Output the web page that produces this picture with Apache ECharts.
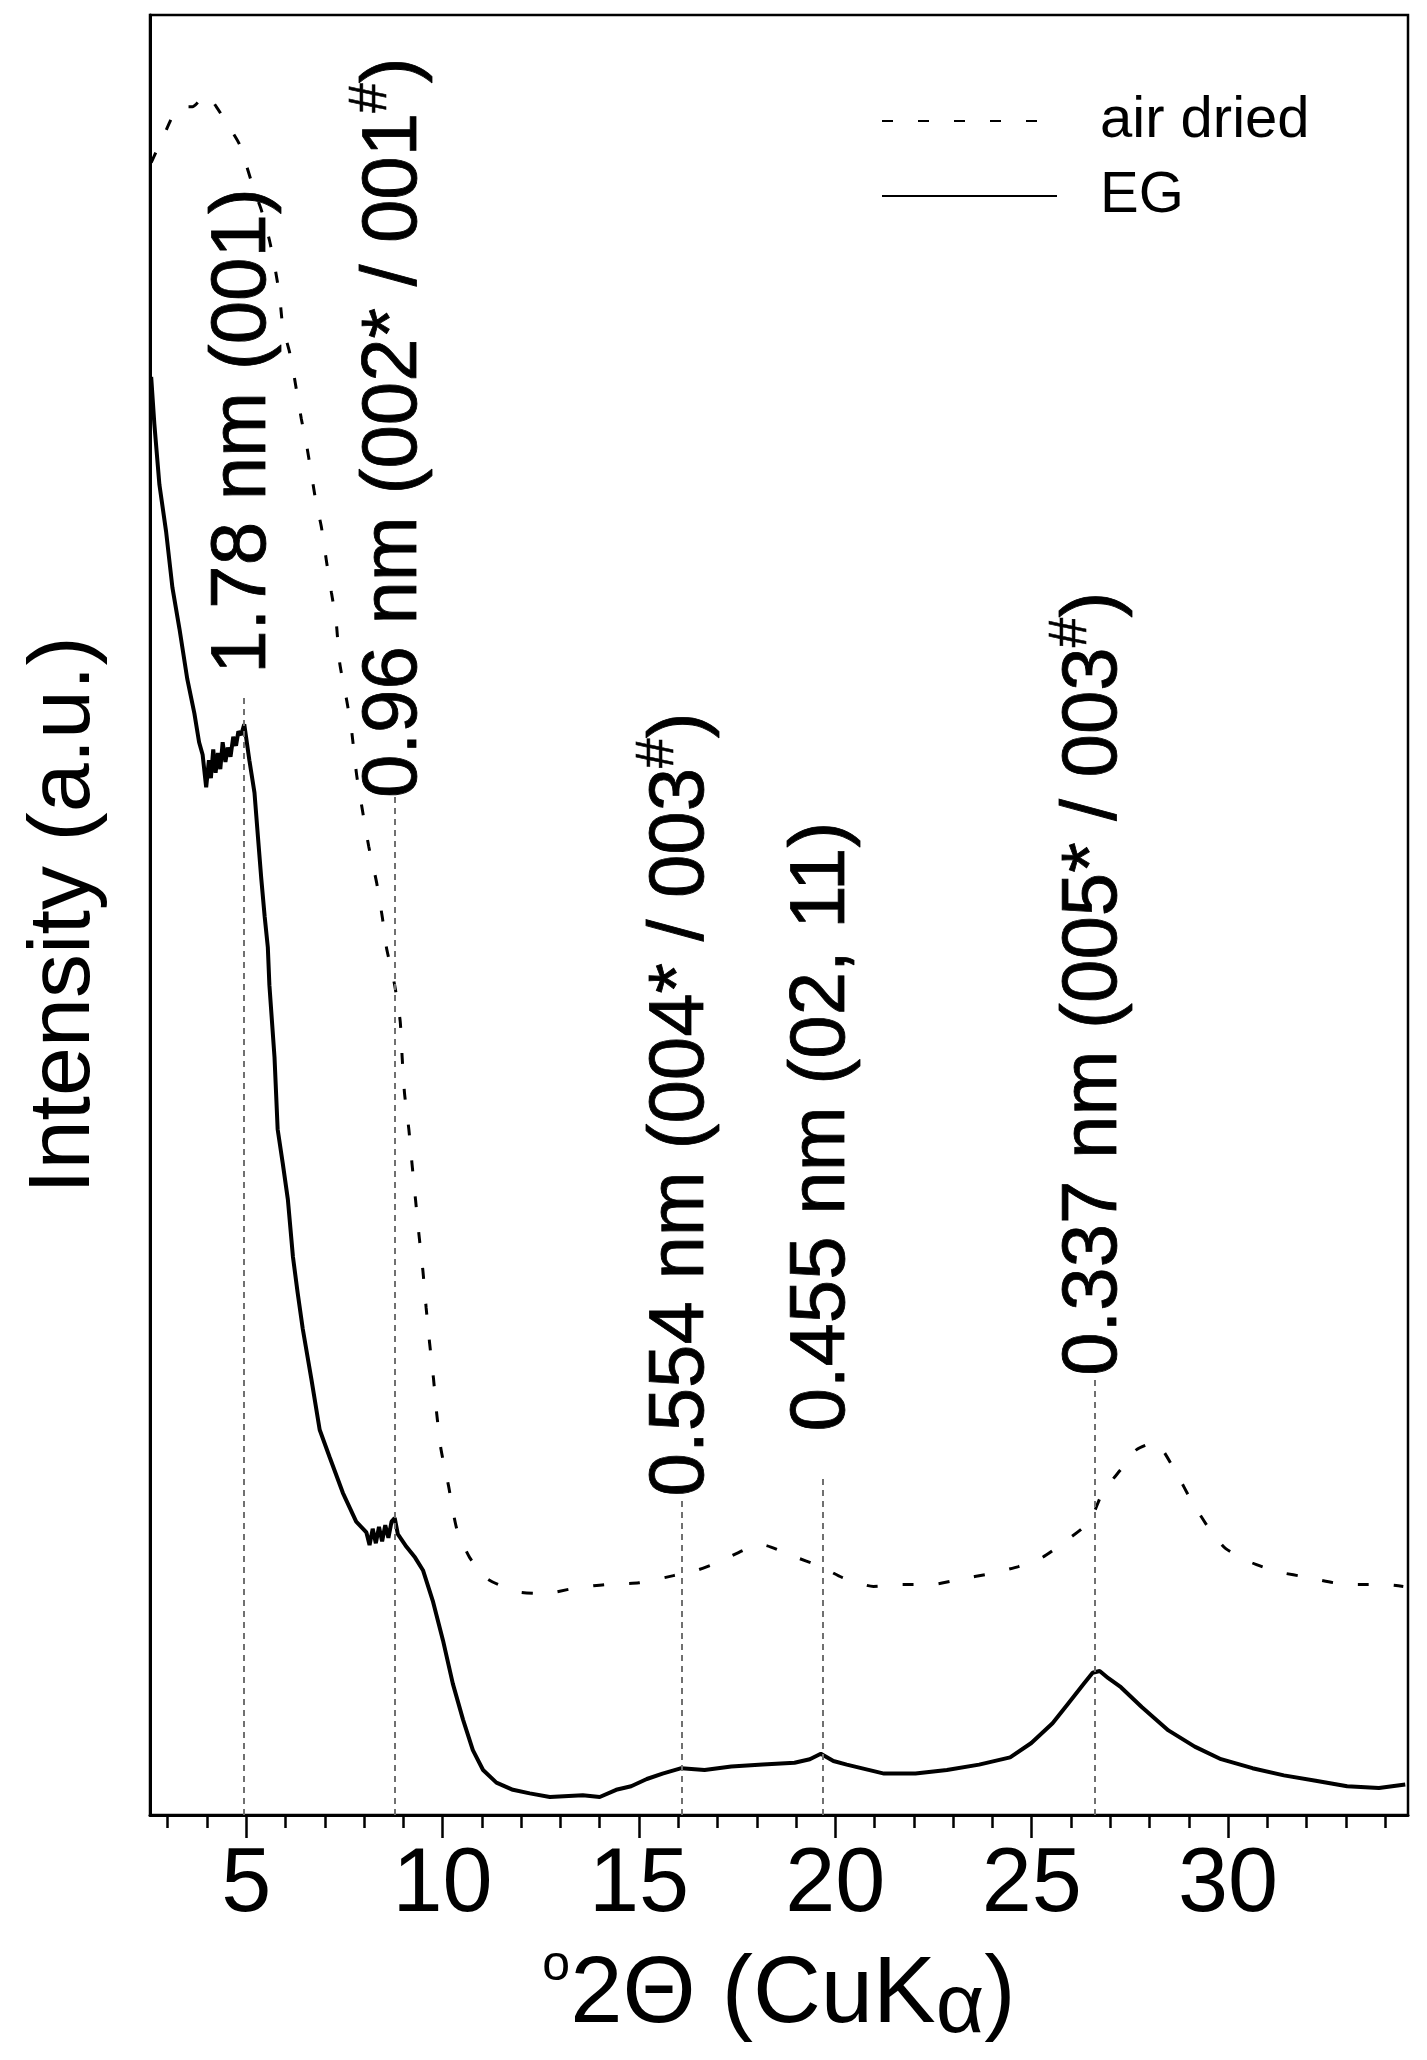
<!DOCTYPE html>
<html><head><meta charset="utf-8">
<script src="https://cdn.jsdelivr.net/npm/echarts@6/dist/echarts.min.js"></script>
<style>html,body{margin:0;padding:0;background:#fff}#c{width:1427px;height:2060px}</style>
</head><body><div id="c"></div>
<script>
// ---- data ----
const seriesNames = ['air dried', 'EG'];
const yTitle = 'Intensity (a.u.)';
const xTickLabels = [5, 10, 15, 20, 25, 30];
const xMinorTicks = [3, 4, 6, 7, 8, 9, 11, 12, 13, 14, 16, 17, 18, 19, 21, 22, 23, 24, 26, 27, 28, 29, 31, 32, 33, 34];

const airX = [2.58, 2.88, 3.30, 3.63, 3.98, 4.24, 4.53, 4.83, 5.21, 5.38, 5.59, 5.72, 5.85, 5.93, 6.10, 6.23, 6.40, 6.53, 6.66, 6.78, 6.91, 7.04, 7.17, 7.29, 7.38, 7.56, 7.68, 7.81, 7.96, 8.12, 8.32, 8.47, 8.57, 8.78, 8.92, 8.97, 9.03, 9.14, 9.22, 9.31, 9.40, 9.50, 9.58, 9.67, 9.77, 9.85, 9.96, 10.15, 10.36, 10.69, 11.15, 11.91, 12.60, 13.36, 14.13, 15.00, 15.88, 16.48, 17.08, 17.75, 18.15, 18.89, 19.63, 20.17, 20.97, 21.71, 22.45, 23.18, 23.92, 24.66, 25.26, 25.79, 26.47, 26.80, 27.27, 27.67, 28.14, 28.68, 29.08, 29.55, 29.94, 30.62, 31.29, 32.03, 32.70, 33.31, 34.05, 34.46];
const airY = [91.8, 93.2, 94.9, 94.9, 95.6, 94.9, 93.9, 92.8, 90.2, 89.2, 87.5, 86.1, 84.4, 82.7, 81.3, 79.8, 77.6, 76.2, 74.5, 72.9, 71.6, 69.7, 67.9, 66.3, 64.0, 61.9, 60.3, 57.8, 55.8, 53.8, 51.8, 49.8, 48.2, 46.1, 44.1, 42.1, 40.1, 38.1, 36.2, 34.2, 32.2, 30.2, 28.2, 26.2, 24.2, 22.3, 20.3, 18.3, 15.9, 14.3, 13.1, 12.4, 12.3, 12.6, 12.8, 12.9, 13.3, 13.6, 14.1, 14.8, 15.0, 14.4, 13.8, 13.2, 12.7, 12.8, 12.8, 13.1, 13.4, 13.8, 14.3, 15.1, 16.3, 17.9, 19.2, 20.3, 20.7, 19.0, 17.4, 15.8, 14.8, 14.0, 13.5, 13.2, 12.9, 12.8, 12.8, 12.7];

const egX = [2.58, 2.66, 2.79, 2.96, 3.12, 3.30, 3.50, 3.68, 3.80, 3.89, 3.98, 4.05, 4.10, 4.16, 4.22, 4.28, 4.34, 4.40, 4.47, 4.53, 4.60, 4.67, 4.74, 4.80, 4.87, 4.95, 5.08, 5.21, 5.30, 5.38, 5.47, 5.55, 5.59, 5.72, 5.80, 5.93, 6.06, 6.19, 6.31, 6.44, 6.66, 6.87, 7.12, 7.46, 7.80, 8.06, 8.14, 8.22, 8.30, 8.38, 8.46, 8.54, 8.62, 8.70, 8.78, 8.86, 9.08, 9.30, 9.50, 9.75, 10.01, 10.26, 10.52, 10.77, 11.03, 11.37, 11.79, 12.22, 12.73, 13.57, 14.00, 14.42, 14.80, 15.20, 15.60, 16.08, 16.67, 17.35, 18.15, 18.96, 19.35, 19.63, 19.95, 20.29, 21.24, 22.04, 22.84, 23.66, 24.45, 24.99, 25.53, 25.93, 26.33, 26.55, 26.73, 26.95, 27.27, 27.80, 28.48, 29.15, 29.82, 30.62, 31.42, 32.23, 33.03, 33.84, 34.51];
const egY = [79.9, 77.3, 73.9, 71.3, 68.2, 65.9, 63.1, 61.2, 59.6, 58.9, 57.1, 58.6, 57.6, 59.2, 57.9, 59.0, 58.1, 59.6, 58.5, 59.3, 58.8, 59.9, 59.4, 60.2, 60.0, 60.6, 58.6, 56.8, 54.3, 52.1, 49.9, 48.2, 46.1, 42.1, 38.1, 36.2, 34.2, 31.0, 29.0, 27.0, 24.2, 21.4, 19.9, 17.9, 16.3, 15.7, 15.0, 15.9, 15.1, 16.0, 15.2, 16.1, 15.4, 16.3, 16.5, 15.6, 14.9, 14.3, 13.6, 11.9, 9.7, 7.3, 5.3, 3.6, 2.5, 1.8, 1.4, 1.2, 1.0, 1.1, 1.0, 1.4, 1.6, 2.0, 2.3, 2.6, 2.5, 2.7, 2.8, 2.9, 3.1, 3.4, 3.0, 2.8, 2.3, 2.3, 2.5, 2.8, 3.2, 4.0, 5.1, 6.2, 7.3, 7.9, 8.0, 7.6, 7.1, 6.0, 4.7, 3.8, 3.1, 2.6, 2.2, 1.9, 1.6, 1.5, 1.7];

const peakX = [4.93, 8.78, 16.08, 19.67, 26.60];
const peakTop = [62.2, 56.8, 17.7, 18.8, 24.4];
const labelBase = [63.4, 56.5, 17.7, 21.3, 24.4];
const peakLabels = ['1.78 nm (001)', '0.96 nm (002* / 001#)', '0.554 nm (004* / 003#)', '0.455 nm (02, 11)', '0.337 nm (005* / 003#)'];

// ---- chart ----
const FF = '"Liberation Sans", Arial, Helvetica, sans-serif';
const zip = (xs, ys) => xs.map((x, i) => [x, ys[i]]);
const XMIN = 2.55, XMAX = 34.58;

const chart = echarts.init(document.getElementById('c'), null, { renderer: 'canvas', width: 1427, height: 2060 });
chart.setOption({
  animation: false,
  backgroundColor: '#fff',
  grid: { left: 150, right: 19, top: 15, bottom: 245, show: true, borderColor: '#000', borderWidth: 2.5, outerBoundsMode: 'none', containLabel: false },
  legend: {
    data: seriesNames, orient: 'vertical', left: 881, top: 92, padding: 0,
    itemWidth: 175, itemHeight: 20, itemGap: 17, selectedMode: false,
    itemStyle: { opacity: 0 },
    textStyle: { fontSize: 58, fontFamily: FF, color: '#000', padding: [0, 0, 0, 38] }
  },
  xAxis: [{
    type: 'value', min: XMIN, max: XMAX, position: 'bottom',
    axisLine: { show: true, onZero: false, lineStyle: { color: '#000', width: 3 } },
    axisTick: { show: true, customValues: xTickLabels, length: 23, lineStyle: { color: '#000', width: 2.5 } },
    axisLabel: { show: true, customValues: xTickLabels, margin: 26, fontSize: 90, fontFamily: FF, color: '#000' },
    splitLine: { show: false },
    name: '{o|o}{t|2Θ (CuK}{a|α}{t|)}', nameLocation: 'middle', nameGap: 126,
    nameTextStyle: {
      color: '#000', fontFamily: FF, fontSize: 94,
      rich: {
        t: { fontSize: 94, lineHeight: 110, fontFamily: FF, color: '#000' },
        o: { fontSize: 50, lineHeight: 50, verticalAlign: 'top', fontFamily: FF, color: '#000' },
        a: { fontSize: 84, lineHeight: 103, verticalAlign: 'bottom', fontFamily: FF, color: '#000' }
      }
    }
  }, {
    type: 'value', min: XMIN, max: XMAX, position: 'bottom',
    axisLine: { show: false, onZero: false },
    axisTick: { show: true, customValues: xMinorTicks, length: 13, lineStyle: { color: '#000', width: 2.5 } },
    axisLabel: { show: false }, splitLine: { show: false }
  }],
  yAxis: {
    type: 'value', min: 0, max: 100,
    axisLine: { show: true, lineStyle: { color: '#000', width: 3 } },
    axisTick: { show: false }, axisLabel: { show: false }, splitLine: { show: false },
    name: yTitle, nameLocation: 'middle', nameRotate: 90, nameGap: 41,
    nameTextStyle: { color: '#000', fontFamily: FF, fontSize: 88 }
  },
  series: [{
    name: seriesNames[0], type: 'line', data: zip(airX, airY), symbol: 'none', smooth: 0.2,
    lineStyle: { color: '#000', width: 3, type: [11, 25] }, itemStyle: { color: '#000' }, silent: true, z: 3
  }, {
    name: seriesNames[1], type: 'line', data: zip(egX, egY), symbol: 'none',
    lineStyle: { color: '#000', width: 4 }, itemStyle: { color: '#000' }, silent: true, z: 4,
    markLine: {
      silent: true, symbol: ['none', 'none'], label: { show: false },
      lineStyle: { color: '#707070', width: 2, type: [6, 5] },
      data: peakX.map((x, i) => [{ coord: [x, 0] }, { coord: [x, peakTop[i]] }])
    }
  }, {
    name: 'peaks', type: 'scatter', data: zip(peakX, labelBase), symbolSize: 0,
    itemStyle: { color: '#000' }, silent: true, z: 6,
    label: {
      show: true, position: 'top', distance: 0, rotate: 90, align: 'left', verticalAlign: 'middle',
      color: '#000', opacity: 1, fontFamily: FF, fontSize: 78, lineHeight: 100,
      textBorderColor: '#000', textBorderWidth: 0.8,
      formatter: p => '{t|' + peakLabels[p.dataIndex].replace('#', '}{s|#}{t|') + '}',
      rich: {
        t: { fontSize: 78, lineHeight: 100, fontFamily: FF, color: '#000', textBorderColor: '#000', textBorderWidth: 0.8 },
        s: { fontSize: 53, lineHeight: 53, verticalAlign: 'top', fontFamily: FF, color: '#000', textBorderColor: '#000', textBorderWidth: 0.6 }
      }
    }
  }]
});
</script></body></html>
